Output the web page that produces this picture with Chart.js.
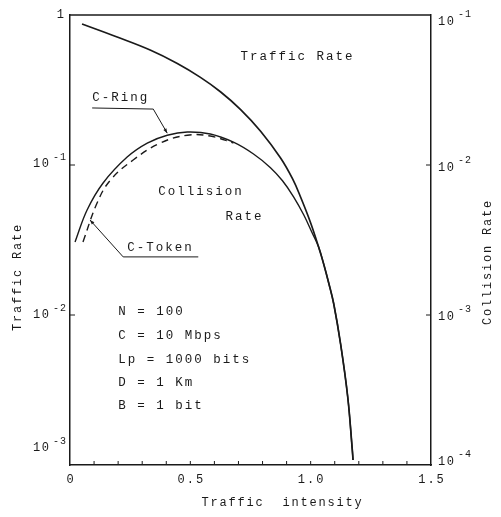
<!DOCTYPE html>
<html><head><meta charset="utf-8">
<script src="https://cdn.jsdelivr.net/npm/chart.js@4"></script>
<style>html,body{margin:0;padding:0;background:#fff;}</style>
</head><body>
<canvas id="c" width="501" height="517"></canvas>
<script>
// ---- data ----
const trafficX = [0.05, 0.196, 0.333, 0.446, 0.542, 0.625, 0.708, 0.792, 0.875, 0.925, 0.958, 1.0, 1.033, 1.054, 1.075, 1.096, 1.125, 1.154, 1.173, 1.176];
const trafficY = [0.871, 0.713, 0.584, 0.475, 0.384, 0.308, 0.235, 0.168, 0.1113, 0.0807, 0.0612, 0.0411, 0.0284, 0.0219, 0.01634, 0.01184, 0.00631, 0.00284, 0.00126, 0.00108];
const ringX = [0.021, 0.071, 0.1375, 0.2375, 0.321, 0.404, 0.4875, 0.583, 0.679, 0.7625, 0.833, 0.883, 0.929, 0.971, 1.008, 1.033, 1.054, 1.075, 1.096, 1.125, 1.154, 1.173, 1.176];
const ringY = [0.00307, 0.00501, 0.00759, 0.0113, 0.0140, 0.0158, 0.0166, 0.0161, 0.0142, 0.01184, 0.0096, 0.00785, 0.00614, 0.00466, 0.00348, 0.00284, 0.00219, 0.001634, 0.001184, 0.000631, 0.000284, 0.000126, 0.000108];
const tokenX = [0.054, 0.1125, 0.167, 0.2625, 0.375, 0.4875, 0.583, 0.679];
const tokenY = [0.00307, 0.00558, 0.0079, 0.0108, 0.0140, 0.0158, 0.0156, 0.0140];
const xTickLabels = ['0', '0.5', '1.0', '1.5'];
const xTickValues = [0, 0.5, 1.0, 1.5];
const leftTicks = [1, 0.1, 0.01, 0.001];
const rightTicks = [0.1, 0.01, 0.001, 0.0001];
const paramLines = ['N = 100', 'C = 10 Mbps', 'Lp = 1000 bits', 'D = 1 Km', 'B = 1 bit'];

const pts = (xs, ys) => xs.map((x, i) => ({x, y: ys[i]}));

// annotation layout (in data units of x / left axis)
const layout = {
  notes: [
    {t: 'Traffic Rate', x: 0.708, y: 0.525},
    {t: 'C-Ring', x: 0.092, y: 0.280},
    {t: 'Collision', x: 0.367, y: 0.066},
    {t: 'Rate', x: 0.646, y: 0.045},
    {t: 'C-Token', x: 0.2375, y: 0.028}
  ],
  paramX: 0.2,
  paramY: [0.0105, 0.00724, 0.0050, 0.00352, 0.00247],
  ringLeader: [[0.092, 0.240], [0.346, 0.236], [0.404, 0.163]],
  tokenLeader: [[0.533, 0.0244], [0.221, 0.0244], [0.083, 0.043]]
};

const FONT = '"Liberation Mono", "DejaVu Sans Mono", monospace';
const INK = '#1a1a1a';

function txt(ctx, s, x, y, size, align, spacing) {
  ctx.font = size + 'px ' + FONT;
  try { ctx.letterSpacing = (spacing || 0) + 'px'; } catch (e) {}
  ctx.textAlign = align || 'left';
  ctx.textBaseline = 'middle';
  ctx.fillText(s, x, y);
}

function arrow(ctx, x0, y0, x1, y1) {
  const a = Math.atan2(y1 - y0, x1 - x0), L = 5;
  ctx.beginPath();
  ctx.moveTo(x1, y1);
  ctx.lineTo(x1 - L * Math.cos(a - 0.35), y1 - L * Math.sin(a - 0.35));
  ctx.lineTo(x1 - L * Math.cos(a + 0.35), y1 - L * Math.sin(a + 0.35));
  ctx.closePath();
  ctx.fill();
}

const deco = {
  id: 'deco',
  afterDraw(chart) {
    const ctx = chart.ctx, a = chart.chartArea;
    const xs = chart.scales.x, ys = chart.scales.y, y1 = chart.scales.y1;
    ctx.save();
    ctx.fillStyle = INK; ctx.strokeStyle = INK;
    // top border
    ctx.lineWidth = 1.5;
    ctx.beginPath(); ctx.moveTo(a.left, a.top); ctx.lineTo(a.right, a.top); ctx.stroke();
    // inward ticks on x axis
    ctx.lineWidth = 1;
    for (let i = 1; i < 15; i++) {
      const px = xs.getPixelForValue(i / 10);
      ctx.beginPath(); ctx.moveTo(px, a.bottom); ctx.lineTo(px, a.bottom - 4); ctx.stroke();
    }
    // inward ticks on y axes
    [0.1, 0.01].forEach(v => {
      const py = ys.getPixelForValue(v);
      ctx.beginPath(); ctx.moveTo(a.left, py); ctx.lineTo(a.left + 5, py); ctx.stroke();
    });
    [0.01, 0.001].forEach(v => {
      const py = y1.getPixelForValue(v);
      ctx.beginPath(); ctx.moveTo(a.right, py); ctx.lineTo(a.right - 5, py); ctx.stroke();
    });
    // x tick labels
    xTickValues.forEach((v, i) => {
      txt(ctx, xTickLabels[i], xs.getPixelForValue(v) + 1, a.bottom + 15, 12, 'center', 2);
    });
    // left tick labels
    const lOff = [0, -1, 0, -17];
    leftTicks.forEach((v, i) => {
      const py = ys.getPixelForValue(v) + lOff[i];
      if (v === 1) { txt(ctx, '1', a.left - 6, py, 12, 'right', 0); return; }
      const e = Math.round(Math.log10(v));
      txt(ctx, '10', a.left - 37, py, 12, 'left', 1.5);
      txt(ctx, '-' + (-e), a.left - 17, py - 7, 10, 'left', 1);
    });
    // right tick labels
    const rOff = [7, 3, 2, -3];
    rightTicks.forEach((v, i) => {
      const py = y1.getPixelForValue(v) + rOff[i];
      const e = Math.round(Math.log10(v));
      txt(ctx, '10', a.right + 7, py, 12, 'left', 1.5);
      txt(ctx, '-' + (-e), a.right + 27, py - 8, 10, 'left', 1);
    });
    // axis titles
    txt(ctx, 'Traffic  intensity', (a.left + a.right) / 2 + 32, a.bottom + 38, 12, 'center', 1.8);
    ctx.save(); ctx.translate(18, 277); ctx.rotate(-Math.PI / 2);
    txt(ctx, 'Traffic Rate', 0, 0, 12, 'center', 1.8); ctx.restore();
    ctx.save(); ctx.translate(488, 262); ctx.rotate(-Math.PI / 2);
    txt(ctx, 'Collision Rate', 0, 0, 12, 'center', 1.8); ctx.restore();
    // notes
    layout.notes.forEach(n => {
      txt(ctx, n.t, xs.getPixelForValue(n.x), ys.getPixelForValue(n.y), 12.5, 'left', 2);
    });
    layout.paramY.forEach((v, i) => {
      txt(ctx, paramLines[i], xs.getPixelForValue(layout.paramX), ys.getPixelForValue(v), 12.5, 'left', 2);
    });
    // leaders
    ctx.lineWidth = 1;
    [layout.ringLeader, layout.tokenLeader].forEach(L => {
      const P = L.map(p => [xs.getPixelForValue(p[0]), ys.getPixelForValue(p[1])]);
      ctx.beginPath(); ctx.moveTo(P[0][0], P[0][1]);
      for (let k = 1; k < P.length; k++) ctx.lineTo(P[k][0], P[k][1]);
      ctx.stroke();
      arrow(ctx, P[1][0], P[1][1], P[2][0], P[2][1]);
    });
    ctx.restore();
  }
};

new Chart(document.getElementById('c'), {
  type: 'line',
  data: {
    datasets: [
      {label: 'Traffic Rate', data: pts(trafficX, trafficY), yAxisID: 'y', borderColor: INK, borderWidth: 1.7, pointRadius: 0, tension: 0.4, fill: false},
      {label: 'C-Ring', data: pts(ringX, ringY), yAxisID: 'y1', borderColor: INK, borderWidth: 1.4, pointRadius: 0, tension: 0.4, fill: false},
      {label: 'C-Token', data: pts(tokenX, tokenY), yAxisID: 'y1', borderColor: INK, borderWidth: 1.4, borderDash: [7, 5], pointRadius: 0, tension: 0.4, fill: false}
    ]
  },
  options: {
    responsive: false, animation: false, devicePixelRatio: 1,
    layout: {padding: {top: 15, left: 0, right: 0, bottom: 0}},
    plugins: {legend: {display: false}, tooltip: {enabled: false}},
    scales: {
      x: {type: 'linear', min: 0, max: 1.5, position: 'bottom',
          ticks: {display: false}, grid: {display: false},
          border: {display: true, color: INK, width: 1.5},
          afterFit: s => { s.height = 52; }},
      y: {type: 'logarithmic', min: 0.001, max: 1, position: 'left',
          ticks: {display: false}, grid: {display: false},
          border: {display: true, color: INK, width: 1.5},
          afterFit: s => { s.width = 70; }},
      y1: {type: 'logarithmic', min: 0.0001, max: 0.1, position: 'right',
          ticks: {display: false}, grid: {display: false},
          border: {display: true, color: INK, width: 1.5},
          afterFit: s => { s.width = 70; }}
    }
  },
  plugins: [deco]
});
</script>
</body></html>
